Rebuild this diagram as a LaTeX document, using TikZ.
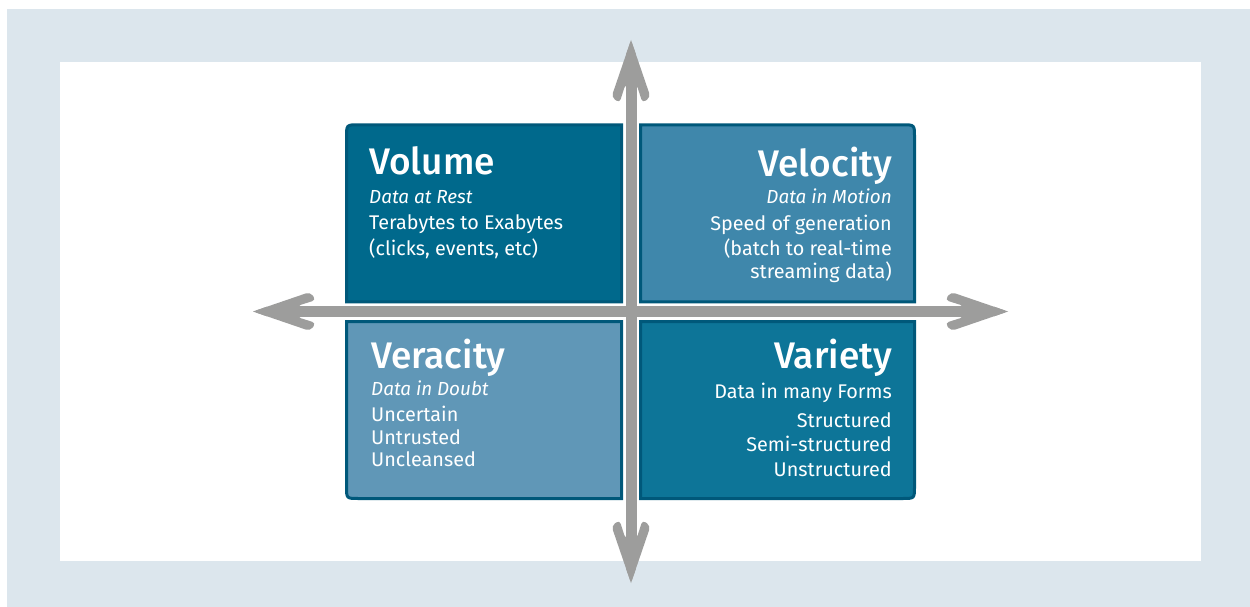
\documentclass[tikz,border=0pt]{standalone}
\usepackage{fontspec}
\setmainfont{Fira Sans}
\newfontfamily\titlefont{Fira Sans Medium}
\definecolor{bgblue}{HTML}{DCE6ED}
\definecolor{volcol}{HTML}{00698C}
\definecolor{velcol}{HTML}{3F87AB}
\definecolor{vercol}{HTML}{6097B7}
\definecolor{varcol}{HTML}{0D7598}
\definecolor{bordcol}{HTML}{00587A}
\definecolor{axgray}{HTML}{9D9D9C}
\tikzset{
  quad/.style={draw=bordcol, line width=3pt},
  ttl/.style={text=white, inner sep=0pt, font=\titlefont\fontsize{37}{40}\selectfont},
  sub/.style={text=white, inner sep=0pt, font=\fontsize{18.9}{20}\selectfont\itshape},
  body/.style={text=white, inner sep=0pt, font=\fontsize{19.8}{22}\selectfont},
  shaft/.style={draw=axgray, line width=11pt},
  ahead/.pic={
    \fill[axgray, rounded corners=4pt] (0,0) -- (-57,19.5) -- (-63,11.5) -- (-44,5.5) -- (-44,-5.5) -- (-63,-11.5) -- (-57,-19.5) -- cycle;
    \fill[axgray] (0,0) -- (-14,4.8) -- (-14,-4.8) -- cycle;
  }
}
\begin{document}
\begin{tikzpicture}[x=1pt,y=-1pt]
\useasboundingbox (0,0) rectangle (1250,607);
\fill[white] (0,0) rectangle (1250,607);
\fill[bgblue] (7,9) rectangle (1250,607);
\fill[white] (60,62) rectangle (1201,561);

% quadrants
\path[quad, fill=volcol] (346.5,301.8) -- (346.5,137) .. controls (346.5,124.8) .. (358.5,124.8) -- (621.5,124.8) -- (621.5,301.8) -- cycle;
\path[quad, fill=velcol] (640.5,301.8) -- (640.5,124.8) -- (902.5,124.8) .. controls (914.5,124.8) .. (914.5,137) -- (914.5,301.8) -- cycle;
\path[quad, fill=vercol] (346.5,321.5) -- (621.5,321.5) -- (621.5,498.5) -- (358.5,498.5) .. controls (346.5,498.5) .. (346.5,486.5) -- cycle;
\path[quad, fill=varcol] (640.5,321.5) -- (914.5,321.5) -- (914.5,486.5) .. controls (914.5,498.5) .. (902.5,498.5) -- (640.5,498.5) -- cycle;

% Volume
\node[ttl, anchor=base west] (volT) at (369,175) {Volume};
\node[sub, anchor=base west] (volS) at (369,203) {Data at Rest};
\node[body, anchor=base west] (volA) at (369,229.5) {Terabytes to Exabytes};
\node[body, anchor=base west] (volB) at (369,255) {(clicks, events, etc)};

% Velocity
\node[ttl, anchor=base east] (velT) at (892,176.5) {Velocity};
\node[sub, anchor=base east] (velS) at (892,203) {Data in Motion};
\node[body, anchor=base east] (velA) at (892,230) {Speed of generation};
\node[body, anchor=base east] (velB) at (892,255) {(batch to real-time};
\node[body, anchor=base east] (velC) at (892,278) {streaming data)};

% Veracity
\node[ttl, anchor=base west] (verT) at (371,368) {Veracity};
\node[sub, anchor=base west] (verS) at (371,395) {Data in Doubt};
\node[body, anchor=base west] (verA) at (371,421.5) {Uncertain};
\node[body, anchor=base west] (verB) at (371,444) {Untrusted};
\node[body, anchor=base west] (verC) at (371,466.5) {Uncleansed};

% Variety
\node[ttl, anchor=base east] (varT) at (892,368) {Variety};
\node[body, anchor=base east] (varS) at (892,398) {Data in many Forms};
\node[body, anchor=base east] (varA) at (892,427) {Structured};
\node[body, anchor=base east] (varB) at (892,451.5) {Semi-structured};
\node[body, anchor=base east] (varC) at (892,476.5) {Unstructured};

% axes
\coordinate (ttip) at (631,40);
\coordinate (btip) at (631,583);
\coordinate (ltip) at (253,311.5);
\coordinate (rtip) at (1008,311.5);
\draw[shaft] ([yshift=-44pt]ttip) -- ([yshift=44pt]btip);
\draw[shaft] ([xshift=44pt]ltip) -- ([xshift=-44pt]rtip);
\pic[rotate=90] at (ttip) {ahead};
\pic[rotate=-90] at (btip) {ahead};
\pic[rotate=180] at (ltip) {ahead};
\pic at (rtip) {ahead};
\end{tikzpicture}
\end{document}
